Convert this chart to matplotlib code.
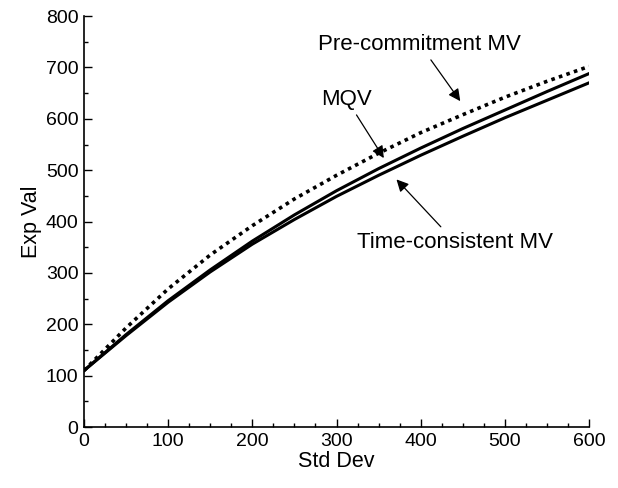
import matplotlib
matplotlib.use("Agg")
from matplotlib import pyplot as plt
from matplotlib.ticker import MultipleLocator

plt.rcParams['font.family'] = ['Liberation Sans', 'DejaVu Sans']

std_dev = [0, 50, 100, 150, 200, 250, 300, 350, 400, 450, 500, 550, 600]
pre_commitment = [110, 193, 269, 335, 392, 444, 490, 533, 573, 608, 642, 673, 702]
mqv = [110, 180, 246, 306, 362, 413, 460, 503, 543, 581, 617, 653, 688]
time_consistent = [110, 178, 243, 302, 356, 404, 449, 490, 529, 566, 602, 636, 670]

fig = plt.figure(figsize=(6.18, 4.88), dpi=100)
ax = fig.add_axes([0.136, 0.125, 0.817, 0.842])

ax.plot(std_dev, pre_commitment, color='black', lw=2.6, linestyle=(0, (1, 1.2)))
ax.plot(std_dev, mqv, color='black', lw=2.2)
ax.plot(std_dev, time_consistent, color='black', lw=2.2)

ax.set_xlim(0, 600)
ax.set_ylim(0, 800)
ax.xaxis.set_major_locator(MultipleLocator(100))
ax.xaxis.set_minor_locator(MultipleLocator(25))
ax.yaxis.set_major_locator(MultipleLocator(100))
ax.yaxis.set_minor_locator(MultipleLocator(50))
ax.tick_params(which='both', direction='in', top=False, right=False, labelsize=14, width=1)
ax.tick_params(which='major', length=6, pad=4)
ax.tick_params(which='minor', length=3)
for side in ['top', 'right']:
    ax.spines[side].set_visible(False)
for side in ['left', 'bottom']:
    ax.spines[side].set_linewidth(1.2)

ax.set_xlabel('Std Dev', fontsize=15.5, labelpad=1)
ax.set_ylabel('Exp Val', fontsize=15.5, labelpad=3)

arrow = dict(arrowstyle='-|>', color='black', lw=0.9, mutation_scale=18)
ax.annotate('Pre-commitment MV', xy=(449, 630), xytext=(399, 745),
            ha='center', va='center', fontsize=16, arrowprops=arrow)
ax.annotate('MQV', xy=(358, 519), xytext=(312, 638),
            ha='center', va='center', fontsize=16, arrowprops=arrow)
ax.annotate('Time-consistent MV', xy=(369, 486), xytext=(441, 360),
            ha='center', va='center', fontsize=16, arrowprops=arrow)

fig.savefig('out.png', dpi=100)
